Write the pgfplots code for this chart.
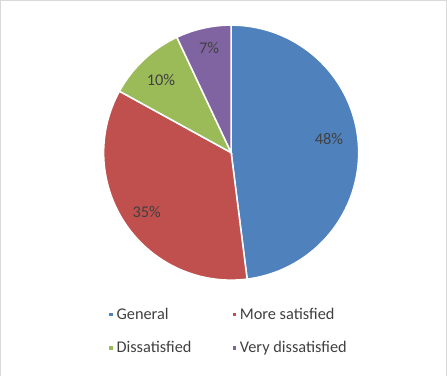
\documentclass[border=0pt]{standalone}
\usepackage{pgfplots}
\usepackage{pgfplotstable}
\pgfplotsset{compat=1.18}
\usepackage{fontspec}
\setmainfont{Carlito}

\definecolor{sliceBlue}{HTML}{4F81BD}
\definecolor{sliceRed}{HTML}{C0504D}
\definecolor{sliceGreen}{HTML}{9BBB59}
\definecolor{slicePurple}{HTML}{8064A2}
\definecolor{textGray}{HTML}{404040}
\definecolor{frameGray}{HTML}{D9D9D9}

% Share of respondents (percent)
\pgfplotstableread{
value
48
35
10
7
}\piedata

% Slice boundaries, clockwise from 12 o'clock
\pgfplotstablegetelem{0}{value}\of\piedata \let\vA\pgfplotsretval
\pgfplotstablegetelem{1}{value}\of\piedata \let\vB\pgfplotsretval
\pgfplotstablegetelem{2}{value}\of\piedata \let\vC\pgfplotsretval
\pgfplotstablegetelem{3}{value}\of\piedata \let\vD\pgfplotsretval
\pgfmathsetmacro\aA{90}
\pgfmathsetmacro\aB{\aA-3.6*\vA}
\pgfmathsetmacro\aC{\aB-3.6*\vB}
\pgfmathsetmacro\aD{\aC-3.6*\vC}
\pgfmathsetmacro\aE{\aD-3.6*\vD}
\pgfmathsetmacro\mA{(\aA+\aB)/2}
\pgfmathsetmacro\mB{(\aB+\aC)/2}
\pgfmathsetmacro\mC{(\aC+\aD)/2}
\pgfmathsetmacro\mD{(\aD+\aE)/2}

\def\cx{230}
\def\cy{153}
\def\rr{125}
\def\lr{99}

\begin{document}
\begin{tikzpicture}
\begin{axis}[
  scale only axis, width=447bp, height=372bp,
  xmin=0, xmax=447, ymin=0, ymax=372, y dir=reverse,
  hide axis, clip=false,
  font=\fontsize{16bp}{19bp}\selectfont,
  legend columns=2,
  legend cell align=left,
  legend style={draw=none, fill=none, text=textGray,
    at={(axis cs:109,328)}, anchor=west,
    /tikz/every even column/.append style={column sep=37bp},
    row sep=16bp, inner sep=0pt,
    font=\fontsize{16bp}{19bp}\selectfont},
  legend image code/.code={\fill[#1] (0bp,-2.5bp) rectangle (5bp,2.5bp);},
]
% frame
\draw[frameGray, line width=1.2bp] (axis cs:4,372) -- (axis cs:4,4) -- (axis cs:441,4) -- (axis cs:441,372);

\addplot[fill=sliceBlue, draw=white, line width=1.5bp, domain=\aA:\aB, samples=90, variable=\t]
  ({\cx+\rr*cos(\t)},{\cy-\rr*sin(\t)}) -- (axis cs:\cx,\cy) -- cycle;
\addlegendentry{General}
\addplot[fill=sliceRed, draw=white, line width=1.5bp, domain=\aB:\aC, samples=70, variable=\t]
  ({\cx+\rr*cos(\t)},{\cy-\rr*sin(\t)}) -- (axis cs:\cx,\cy) -- cycle;
\addlegendentry{More satisfied}
\addplot[fill=sliceGreen, draw=white, line width=1.5bp, domain=\aC:\aD, samples=30, variable=\t]
  ({\cx+\rr*cos(\t)},{\cy-\rr*sin(\t)}) -- (axis cs:\cx,\cy) -- cycle;
\addlegendentry{Dissatisfied}
\addplot[fill=slicePurple, draw=white, line width=1.5bp, domain=\aD:\aE, samples=20, variable=\t]
  ({\cx+\rr*cos(\t)},{\cy-\rr*sin(\t)}) -- (axis cs:\cx,\cy) -- cycle;
\addlegendentry{Very dissatisfied}

% percentage labels near the middle of each slice
\node[text=textGray] at (axis cs:{\cx+\lr*cos(\mA)-3},{\cy-\lr*sin(\mA)-7}) {\vA\%};
\node[text=textGray] at (axis cs:{\cx+\lr*cos(\mB)-1},{\cy-\lr*sin(\mB)+3}) {\vB\%};
\node[text=textGray] at (axis cs:{\cx+\lr*cos(\mC)-1},{\cy-\lr*sin(\mC)+1}) {\vC\%};
\node[text=textGray] at (axis cs:{\cx+\lr*cos(\mD)},{\cy-\lr*sin(\mD)-6}) {\vD\%};
\end{axis}
\end{tikzpicture}
\end{document}
